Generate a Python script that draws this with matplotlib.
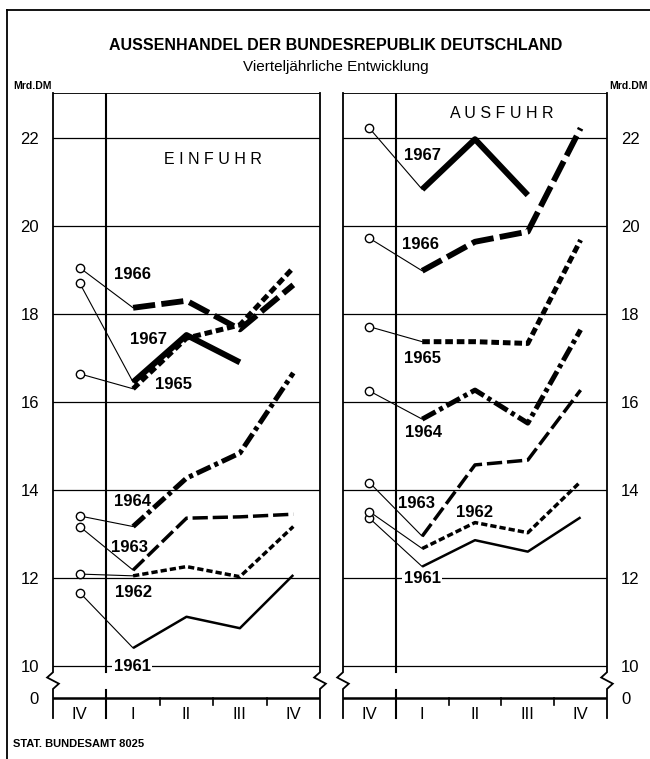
import matplotlib
matplotlib.use('Agg')
import matplotlib.pyplot as plt
from matplotlib.lines import Line2D

# Schrift: Arial-ähnlich, etwas schmaler als DejaVu
plt.rcParams['font.family'] = ['Liberation Sans', 'DejaVu Sans']
plt.rcParams['lines.scale_dashes'] = False

# Daten (Mrd. DM), Index 0 = IV. Quartal des Vorjahres, 1..4 = I..IV
jahre = ['1961', '1962', '1963', '1964', '1965', '1966', '1967']
quartale = ['IV', 'I', 'II', 'III', 'IV']

einfuhr_1961 = [11.67, 10.41, 11.12, 10.86, 12.07]
einfuhr_1962 = [12.09, 12.05, 12.26, 12.03, 13.17]
einfuhr_1963 = [13.17, 12.18, 13.36, 13.39, 13.45]
einfuhr_1964 = [13.41, 13.17, 14.27, 14.84, 16.66]
einfuhr_1965 = [16.64, 16.30, 17.45, 17.75, 19.05]
einfuhr_1966 = [19.05, 18.14, 18.30, 17.65, 18.66]
einfuhr_1967 = [18.70, 16.45, 17.52, 16.90]

ausfuhr_1961 = [13.36, 12.26, 12.86, 12.60, 13.38]
ausfuhr_1962 = [13.51, 12.67, 13.26, 13.03, 14.19]
ausfuhr_1963 = [14.17, 12.95, 14.57, 14.68, 16.27]
ausfuhr_1964 = [16.25, 15.61, 16.27, 15.52, 17.64]
ausfuhr_1965 = [17.71, 17.37, 17.37, 17.33, 19.68]
ausfuhr_1966 = [19.72, 18.98, 19.64, 19.87, 22.22]
ausfuhr_1967 = [22.22, 20.83, 21.97, 20.70]

einfuhr = [einfuhr_1961, einfuhr_1962, einfuhr_1963, einfuhr_1964,
           einfuhr_1965, einfuhr_1966, einfuhr_1967]
ausfuhr = [ausfuhr_1961, ausfuhr_1962, ausfuhr_1963, ausfuhr_1964,
           ausfuhr_1965, ausfuhr_1966, ausfuhr_1967]

# Linienstile je Jahr (Breite in pt, Strichmuster in pt)
stile = {
    '1961': dict(lw=1.8, dashes=None),
    '1962': dict(lw=2.5, dashes=(4.5, 2.2)),
    '1963': dict(lw=2.5, dashes=(11, 3.5)),
    '1964': dict(lw=3.6, dashes=(11, 3, 3, 3)),
    '1965': dict(lw=3.6, dashes=(5.5, 2.8)),
    '1966': dict(lw=4.2, dashes=(16, 4.5)),
    '1967': dict(lw=4.3, dashes=None),
}

# Beschriftungspositionen der Jahreszahlen
pos_ein = {'1961': (0.98, 9.98), '1962': (1.0, 11.68), '1963': (0.94, 12.70),
           '1964': (0.98, 13.73), '1965': (1.75, 16.39), '1966': (0.98, 18.89),
           '1967': (1.28, 17.41)}
pos_aus = {'1961': (1.0, 12.0), '1962': (1.99, 13.48), '1963': (0.9, 13.70),
           '1964': (1.02, 15.30), '1965': (1.0, 16.98), '1966': (0.96, 19.57),
           '1967': (1.0, 21.61)}

W, H = 650, 759
Y_TOP, Y_BOT, Y_NULL = 23.02, 8.82, 9.27

fig = plt.figure(figsize=(W / 100, H / 100), dpi=100)


def achse(x0, x1, y0, y1):
    return fig.add_axes([x0 / W, 1 - y1 / H, (x1 - x0) / W, (y1 - y0) / H])


def rand(ax, x, d):
    # senkrechte Begrenzung mit Bruchzeichen zwischen 10 und 0
    xs = [x, x, x - d, x + d, x, x]
    ys = [Y_TOP, 9.86, 9.74, 9.6, 9.48, Y_BOT]
    ax.plot(xs, ys, color='black', lw=1.3, clip_on=False, solid_joinstyle='miter')


def panel(ax, reihen, positionen, rechts, titel, titel_y):
    ax.set_xlim(-0.5, 4.5)
    ax.set_ylim(Y_BOT, Y_TOP)
    for s in ax.spines.values():
        s.set_visible(False)
    ax.set_xticks([])
    ticks = [Y_NULL] + list(range(10, 23, 2))
    ax.set_yticks(ticks, ['0'] + [str(t) for t in range(10, 23, 2)])
    ax.tick_params(axis='y', length=0, pad=10, labelsize=12)
    if rechts:
        ax.yaxis.tick_right()

    # Gitter
    for g in range(10, 23, 2):
        ax.axhline(g, color='black', lw=0.9, zorder=1)
    ax.axhline(Y_TOP, color='black', lw=1.3, zorder=1)
    ax.plot([-0.5, 4.5], [Y_NULL, Y_NULL], color='black', lw=1.8, zorder=1)
    rand(ax, -0.5, 0.11)
    rand(ax, 4.5, 0.11)
    ax.plot([0.5, 0.5], [Y_TOP, 9.86], color='black', lw=1.5, zorder=1)
    ax.plot([0.5, 0.5], [9.45, Y_BOT], color='black', lw=1.5, zorder=1, clip_on=False)
    for t in [1.5, 2.5, 3.5]:
        ax.plot([t, t], [Y_NULL, Y_NULL - 0.15], color='black', lw=1.2)
    for i, q in enumerate(quartale):
        ax.text(i, 8.9, q, ha='center', va='center', fontsize=12)

    for jahr, werte in zip(jahre, reihen):
        st = stile[jahr]
        x = list(range(len(werte)))
        ax.plot(x[:2], werte[:2], color='black', lw=0.8, zorder=2)
        ln = Line2D(x[1:], werte[1:], color='black', lw=st['lw'],
                    solid_capstyle='butt', dash_capstyle='butt', zorder=3)
        if st['dashes']:
            ln.set_dashes(st['dashes'])
        ax.add_line(ln)
        ax.plot(x[0], werte[0], 'o', ms=6, mfc='white', mec='black', mew=1.0, zorder=4)
        px, py = positionen[jahr]
        box = dict(facecolor='white', edgecolor='none', pad=1) if jahr == '1961' else None
        ax.text(px, py, jahr, ha='center', va='center', fontsize=12,
                fontweight='bold', bbox=box, zorder=5)

    ax.text(2.5, titel_y, titel, ha='center', va='center', fontsize=11.5)


ax1 = achse(53, 320, 93, 718)
ax2 = achse(343, 607, 93, 718)
panel(ax1, einfuhr, pos_ein, False, 'E I N F U H R', 21.5)
panel(ax2, ausfuhr, pos_aus, True, 'A U S F U H R', 22.55)

# Überschriften und Rahmen
fig.text(336 / W, 1 - 45 / H, 'AUSSENHANDEL DER BUNDESREPUBLIK DEUTSCHLAND',
         ha='center', va='center', fontsize=11.5, fontweight='bold')
fig.text(336 / W, 1 - 67 / H, 'Vierteljährliche Entwicklung',
         ha='center', va='center', fontsize=11)
fig.text(13 / W, 1 - 86 / H, 'Mrd.DM', ha='left', va='center', fontsize=7.5, fontweight='bold')
fig.text(648 / W, 1 - 86 / H, 'Mrd.DM', ha='right', va='center', fontsize=7.5, fontweight='bold')
fig.text(13 / W, 1 - 744 / H, 'STAT. BUNDESAMT 8025', ha='left', va='center',
         fontsize=8, fontweight='bold')
fig.add_artist(Line2D([7 / W, 7 / W], [0, 1 - 10 / H], color='black', lw=1.3))
fig.add_artist(Line2D([7 / W, 1], [1 - 10 / H, 1 - 10 / H], color='black', lw=1.3))

fig.savefig('out.png', dpi=100)
